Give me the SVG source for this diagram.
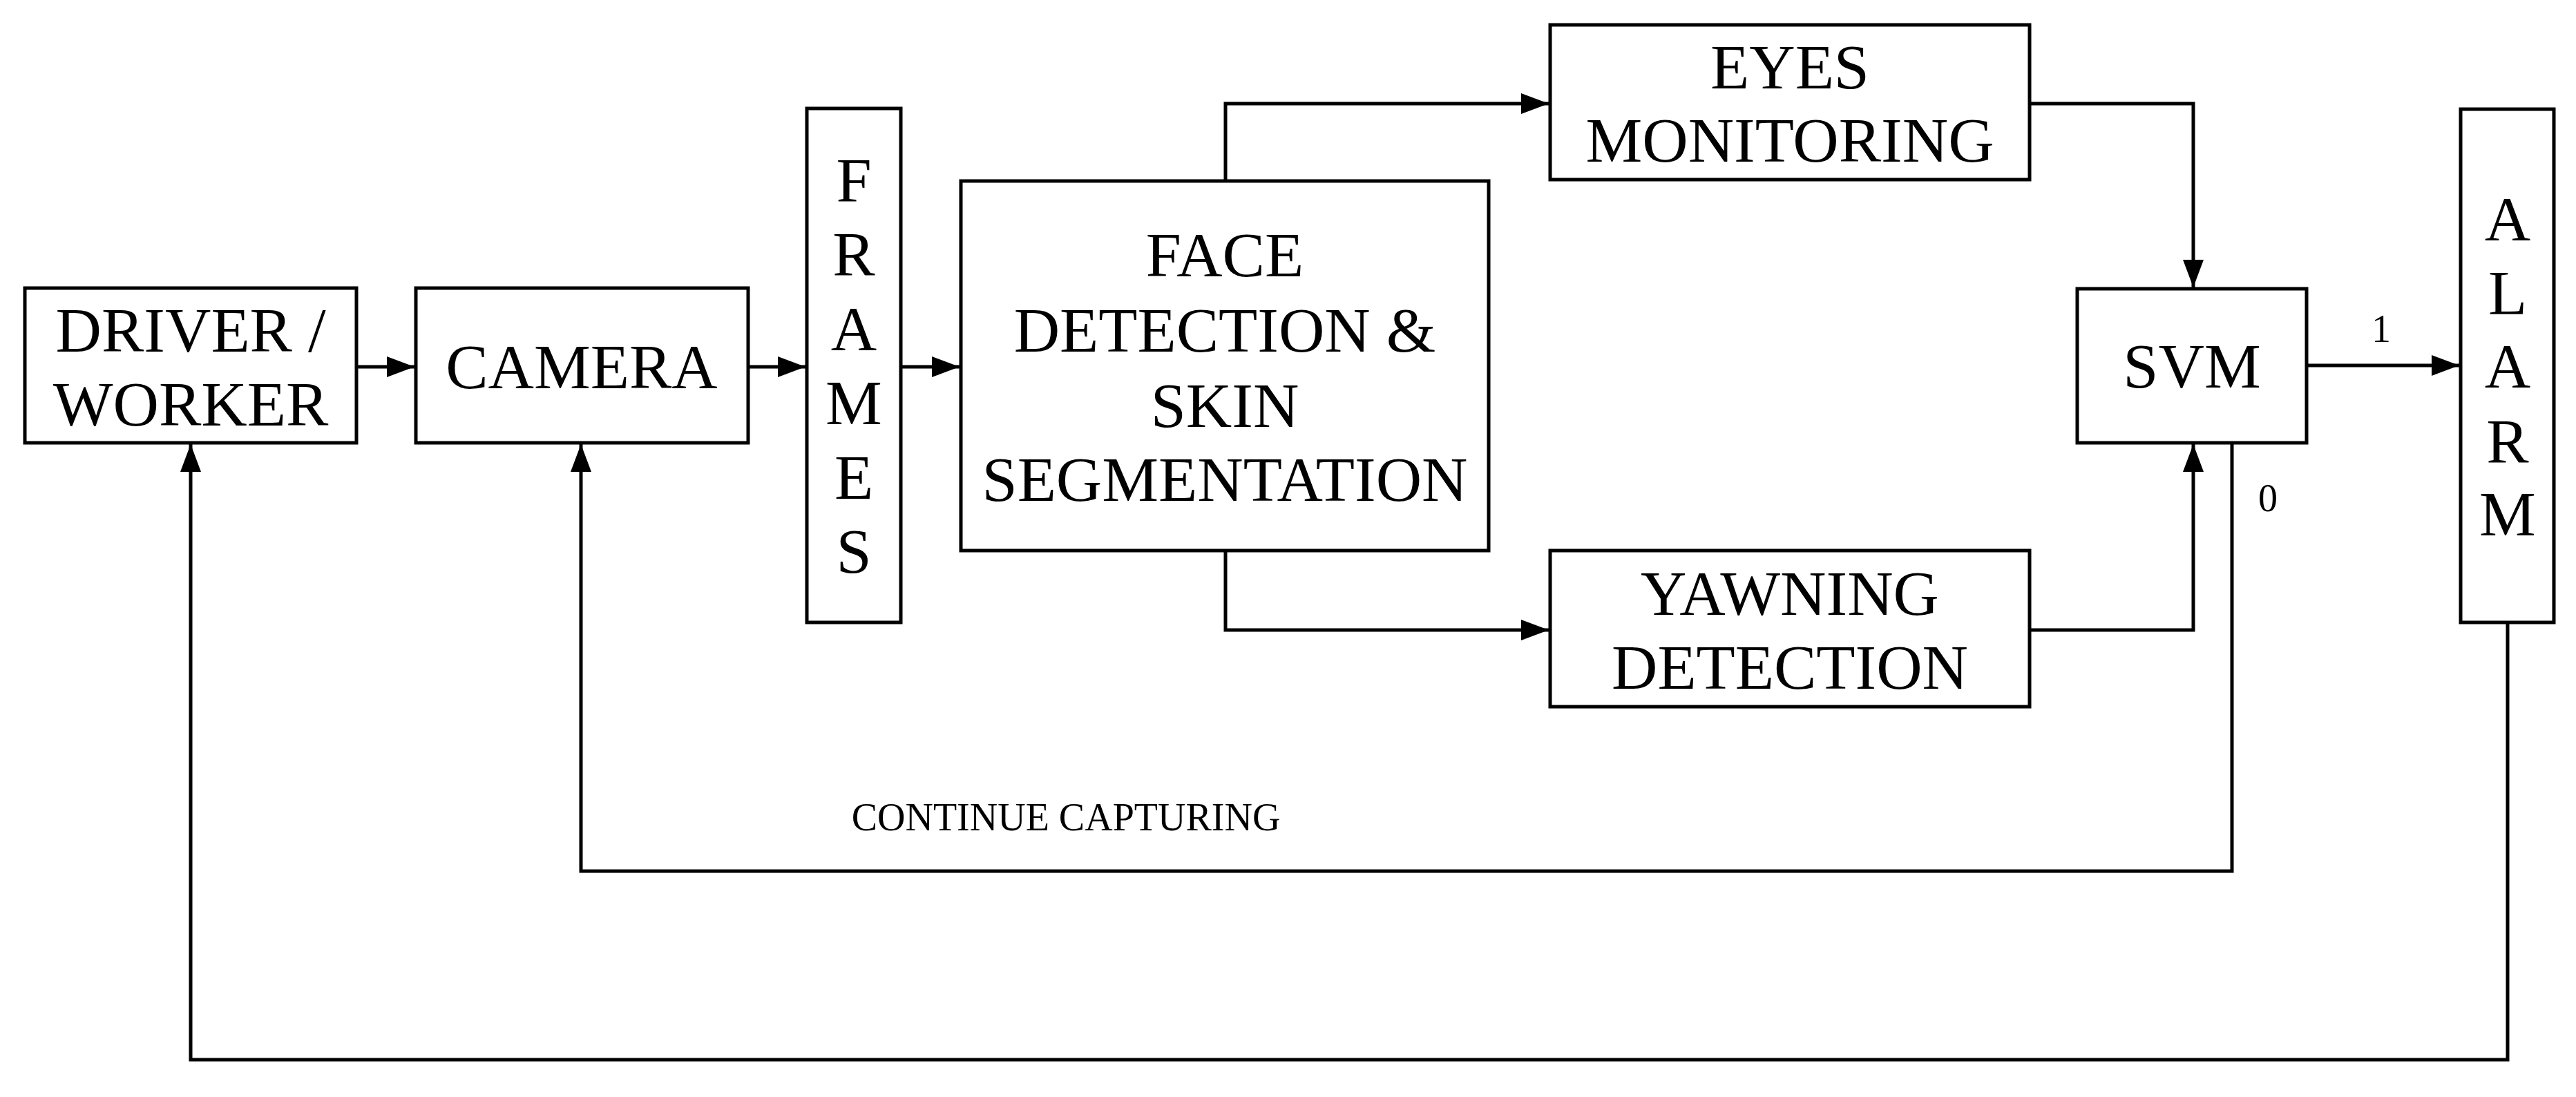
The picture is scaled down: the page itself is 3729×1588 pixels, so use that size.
<svg xmlns="http://www.w3.org/2000/svg" width="3729" height="1588" viewBox="0 0 3729 1588">
<defs>
<style>
.b{fill:#fff;stroke:#000;stroke-width:5}
.t{font-family:"Liberation Serif","Times New Roman",serif;font-size:92px;text-anchor:middle;fill:#000}
.s{font-family:"Liberation Serif","Times New Roman",serif;font-size:56px;text-anchor:middle;fill:#000}
.c{fill:none;stroke:#000;stroke-width:5;marker-end:url(#a)}
</style>
<marker id="a" markerWidth="8" markerHeight="6" refX="8" refY="3" orient="auto" markerUnits="strokeWidth"><path d="M0,0L8,3L0,6Z" fill="#000"/></marker>
</defs>
<rect width="3729" height="1588" fill="#fff"/>
<g id="connectors">
<path class="c" d="M516,531H600"/>
<path class="c" d="M1083,531H1166"/>
<path class="c" d="M1304,531H1389"/>
<path class="c" d="M1774,262V150H2242"/>
<path class="c" d="M1774,797V912H2242"/>
<path class="c" d="M2938,150H3175V416"/>
<path class="c" d="M2938,912H3175V643"/>
<path class="c" d="M3339,529H3560"/>
<path class="c" d="M3231,641V1261H841V643"/>
<path class="c" d="M3630,901V1534H276V643"/>
<text class="s" x="3447" y="495">1</text>
<text class="s" x="3283" y="740">0</text>
<text class="s" x="1543" y="1202">CONTINUE CAPTURING</text>
</g>
<g id="driver"><rect class="b" x="36" y="417" width="480" height="224"/><text class="t" x="276" y="509">DRIVER /</text><text class="t" x="276" y="616">WORKER</text></g>
<g id="camera"><rect class="b" x="602" y="417" width="481" height="224"/><text class="t" x="842" y="562">CAMERA</text></g>
<g id="frames"><rect class="b" x="1168" y="157" width="136" height="744"/>
<text class="t" x="1236" y="292">F</text><text class="t" x="1236" y="399">R</text><text class="t" x="1236" y="507">A</text><text class="t" x="1236" y="614">M</text><text class="t" x="1236" y="722">E</text><text class="t" x="1236" y="829">S</text></g>
<g id="face"><rect class="b" x="1391" y="262" width="764" height="535"/>
<text class="t" x="1773" y="400">FACE</text><text class="t" x="1773" y="509">DETECTION &amp;</text><text class="t" x="1773" y="618">SKIN</text><text class="t" x="1773" y="725">SEGMENTATION</text></g>
<g id="eyes"><rect class="b" x="2244" y="36" width="694" height="224"/><text class="t" x="2591" y="128">EYES</text><text class="t" x="2591" y="234">MONITORING</text></g>
<g id="yawning"><rect class="b" x="2244" y="797" width="694" height="226"/><text class="t" x="2591" y="890">YAWNING</text><text class="t" x="2591" y="997">DETECTION</text></g>
<g id="svm"><rect class="b" x="3007" y="418" width="332" height="223"/><text class="t" x="3173" y="561">SVM</text></g>
<g id="alarm"><rect class="b" x="3562" y="158" width="135" height="743"/>
<text class="t" x="3630" y="348">A</text><text class="t" x="3630" y="455">L</text><text class="t" x="3630" y="561">A</text><text class="t" x="3630" y="670">R</text><text class="t" x="3630" y="775">M</text></g>
</svg>
